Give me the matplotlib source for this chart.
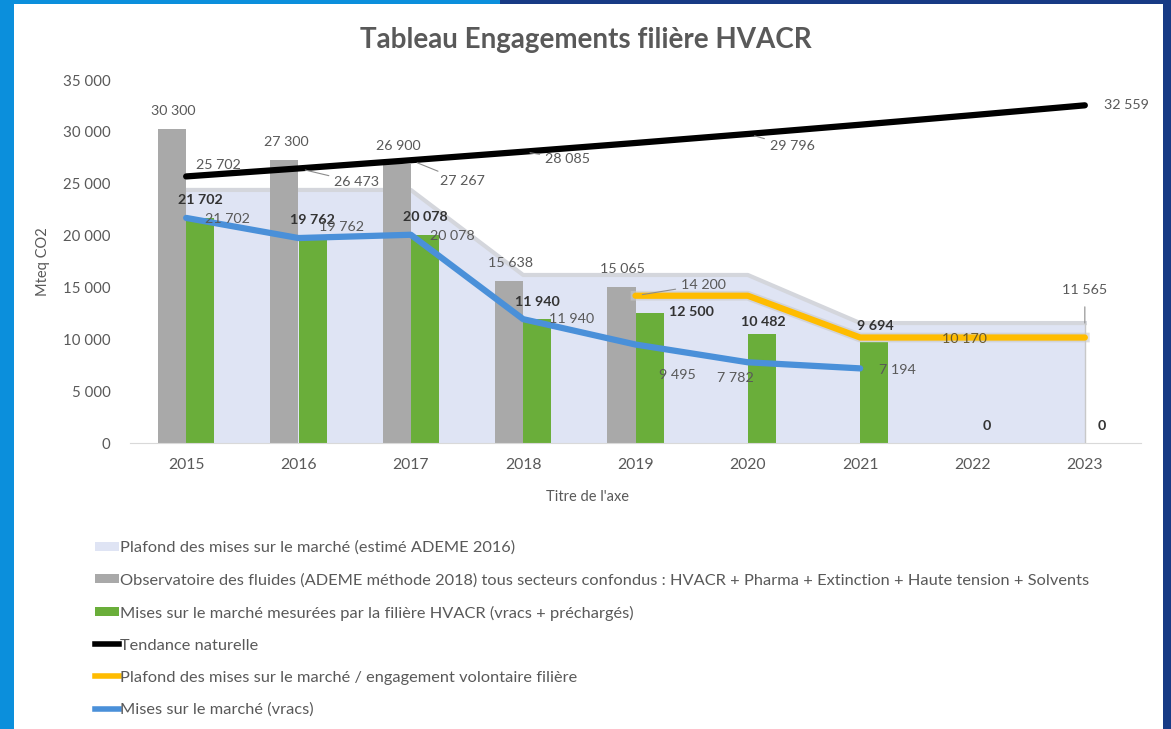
import numpy as np
import matplotlib.pyplot as plt
from matplotlib.patches import Rectangle, Patch
from matplotlib.lines import Line2D

plt.rcParams['font.family'] = ['Lato', 'DejaVu Sans']

years = ['2015', '2016', '2017', '2018', '2019', '2020', '2021', '2022', '2023']
# plafond estime ADEME 2016 (area)
plafond_ademe = [24400, 24400, 24400, 16200, 16200, 16200, 11565, 11565, 11565]
# observatoire des fluides (grey bars)
observatoire = [30300, 27300, 26900, 15638, 15065, np.nan, np.nan, np.nan, np.nan]
# mises sur le marche HVACR (green bars)
mises_hvacr = [21702, 19762, 20078, 11940, 12500, 10482, 9694, 0, 0]
# tendance naturelle (black line)
tendance = [25702, 26473, 27267, 28085, 28927, 29796, 30690, 31610, 32559]
tendance_shown = [True, True, True, True, False, True, False, False, True]
# engagement volontaire filiere (orange line)
engagement = [np.nan, np.nan, np.nan, np.nan, 14200, 14200, 10170, 10170, 10170]
# mises sur le marche vracs (blue line)
vracs = [21702, 19762, 20078, 11940, 9495, 7782, 7194, np.nan, np.nan]

legend_labels = [
    "Plafond des mises sur le marché (estimé ADEME 2016)",
    "Observatoire des fluides (ADEME méthode 2018) tous secteurs confondus : HVACR + Pharma + Extinction + Haute tension + Solvents",
    "Mises sur le marché mesurées par la filière HVACR (vracs + préchargés)",
    "Tendance naturelle",
    "Plafond des mises sur le marché / engagement volontaire filière",
    "Mises sur le marché (vracs)",
]

def fmt(v):
    return f"{int(v):,}".replace(",", " ")

c_area = '#dfe4f4'
c_gray = '#a9a9a9'
c_green = '#6aae3a'
c_blue = '#4a90d9'
c_orange = '#ffbc00'
c_text = '#595959'

fig = plt.figure(figsize=(11.71, 7.29), dpi=100)
fig.patch.set_facecolor('#0b8fdc')
bg = dict(transform=fig.transFigure, edgecolor='none', zorder=-10)
fig.add_artist(Rectangle((1163 / 1171, 0), 8 / 1171, 1, facecolor='#173a85', **bg))
fig.add_artist(Rectangle((500 / 1171, 725 / 729), 671 / 1171, 4 / 729, facecolor='#173a85', **bg))
fig.add_artist(Rectangle((14 / 1171, 0), 1149 / 1171, 725 / 729, facecolor='white', **bg))

ax = fig.add_axes([130 / 1171, 1 - 443 / 729, 1011 / 1171, 363 / 729])
ax.set_facecolor('none')
x = np.arange(len(years))

ax.fill_between(x, plafond_ademe, color=c_area, zorder=1)
ax.plot(x, plafond_ademe, color='#d4d6dc', lw=3, zorder=1.5)
ax.vlines(x[-1], 0, plafond_ademe[-1], color='#c8c8c8', lw=1, zorder=1.5)

w = 0.25
ax.bar(x - w / 2, observatoire, w, color=c_gray, zorder=2)
ax.bar(x + w / 2, mises_hvacr, w, color=c_green, zorder=2)

ax.plot(x, tendance, color='black', lw=4.5, solid_capstyle='round', zorder=4)
ax.plot(x, engagement, color='#c9c9c9', lw=7, alpha=0.6, zorder=3)
ax.plot(x, engagement, color=c_orange, lw=4.5, solid_capstyle='round', zorder=4)
ax.plot(x, vracs, color=c_blue, lw=4.5, solid_capstyle='round', zorder=4)

ax.set_xlim(-0.5, 8.5)
ax.set_ylim(0, 35000)
ax.set_yticks(np.arange(0, 35001, 5000))
ax.set_yticklabels([fmt(v) for v in np.arange(0, 35001, 5000)])
ax.set_xticks(x)
ax.set_xticklabels(years)
ax.tick_params(length=0, labelcolor=c_text)
ax.tick_params(axis='y', pad=14, labelsize=10.8)
ax.tick_params(axis='x', pad=11, labelsize=11.3)
for s in ['top', 'right', 'left']:
    ax.spines[s].set_visible(False)
ax.spines['bottom'].set_color('#d9d9d9')
ax.set_ylabel('Mteq CO2', fontsize=10.5, color=c_text)
ax.yaxis.set_label_coords(-0.079, 0.5)
ax.set_xlabel("Titre de l'axe", fontsize=10.5, color=c_text)
ax.xaxis.set_label_coords(0.453, -0.13)

fig.text(0.5, 1 - 40 / 729, 'Tableau Engagements filière HVACR', ha='center', va='center',
         fontsize=20, fontweight='bold', color='#595959')

lab = dict(fontsize=10.3, color=c_text, zorder=6, textcoords='offset points', ha='center', va='center')
leader = dict(arrowstyle='-', color='#8c8c8c', lw=0.8, shrinkA=2, shrinkB=5)

# grey bar labels
for i, v in enumerate(observatoire):
    if not np.isnan(v):
        ax.annotate(fmt(v), (x[i] - w / 2, v), xytext=(1, 13), **lab)

# green bar labels
green_off = [(0, 13), (0, 13), (0, 13), (0, 12), (30, 1), (1, 9), (1, 12), (0, 12), (2, 12)]
for i, v in enumerate(mises_hvacr):
    ax.annotate(fmt(v), (x[i] + w / 2, v), xytext=green_off[i], textcoords='offset points',
                ha='center', va='center', fontsize=10.3, fontweight='bold', color='#333333', zorder=6)

# black line labels
black_off = [(23, 8), (42, -10), (37, -15), (32, -5), (0, 0), (32, -9), (0, 0), (0, 0), (30, 0)]
for i, v in enumerate(tendance):
    if tendance_shown[i]:
        props = leader if i in (1, 2, 3, 5) else None
        ax.annotate(fmt(v), (x[i], v), xytext=black_off[i], arrowprops=props, **lab)

# blue line labels
blue_off = [(30, -1), (31, 8), (30, -1), (35, 0), (30, -22), (-9, -11), (27, -1)]
for i, v in enumerate(vracs):
    if not np.isnan(v):
        ax.annotate(fmt(v), (x[i], v), xytext=blue_off[i], **lab)

ax.annotate(fmt(engagement[4]), (x[4], engagement[4]), xytext=(49, 8), arrowprops=leader, **lab)
ax.annotate(fmt(engagement[7]), (x[7], engagement[7]), xytext=(-6, -1), textcoords='offset points',
            ha='center', va='center', fontsize=10.3, color='#6b5a2a', zorder=6)
ax.annotate(fmt(plafond_ademe[8]), (x[8], plafond_ademe[8]), xytext=(0, 24),
            arrowprops=dict(arrowstyle='-', color='#8c8c8c', lw=0.8, shrinkA=6, shrinkB=0), **lab)

handles = [
    Patch(facecolor=c_area, edgecolor='none'),
    Patch(facecolor=c_gray, edgecolor='none'),
    Patch(facecolor=c_green, edgecolor='none'),
    Line2D([], [], color='black', lw=4),
    Line2D([], [], color=c_orange, lw=4),
    Line2D([], [], color=c_blue, lw=4),
]
fig.legend(handles, legend_labels, loc='upper left', bbox_to_anchor=(80 / 1171, 1 - 526 / 729),
           frameon=False, fontsize=11.8, labelcolor=c_text, handlelength=1.45, handleheight=0.45,
           handletextpad=0.1, labelspacing=1.1)

fig.savefig('out.png', dpi=100, facecolor=fig.get_facecolor())
